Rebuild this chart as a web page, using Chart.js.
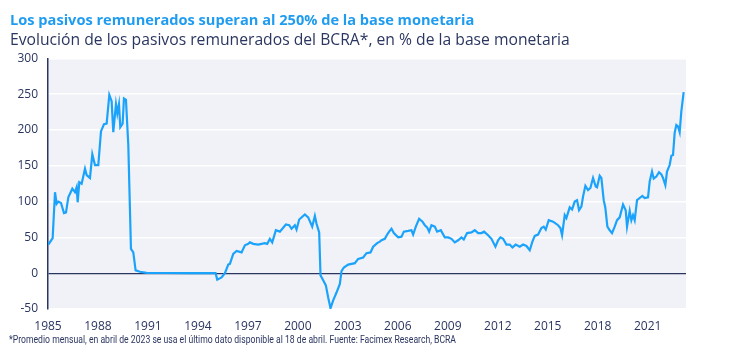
<!DOCTYPE html>
<html>
<head>
<meta charset="utf-8">
<script src="https://cdn.jsdelivr.net/npm/chart.js@4"></script>
<style>
  html, body { margin: 0; padding: 0; background: #ffffff; }
  #wrap { position: relative; width: 729px; height: 347px; }
</style>
</head>
<body>
<div id="wrap"><canvas id="c" width="729" height="347"></canvas></div>
<script>
const titleText = "Los pasivos remunerados superan al 250% de la base monetaria";
const subtitleText = "Evolución de los pasivos remunerados del BCRA*, en % de la base monetaria";
const footnoteText = "*Promedio mensual, en abril de 2023 se usa el último dato disponible al 18 de abril. Fuente: Facimex Research, BCRA";

const yearTicks = [1985, 1988, 1991, 1994, 1997, 2000, 2003, 2006, 2009, 2012, 2015, 2018, 2021];
const valueTicks = [-50, 0, 50, 100, 150, 200, 250, 300];

const years = [
  1985.02, 1985.28, 1985.42, 1985.52, 1985.62, 1985.78, 1985.96, 1986.08, 1986.22, 1986.46,
  1986.62, 1986.72, 1986.78, 1986.88, 1987.02, 1987.22, 1987.32, 1987.52, 1987.66, 1987.82,
  1988.02, 1988.18, 1988.36, 1988.52, 1988.68, 1988.82, 1988.92, 1989.08, 1989.16, 1989.26,
  1989.34, 1989.48, 1989.56, 1989.68, 1989.82, 1989.98, 1990.12, 1990.26, 1990.52, 1990.92,
  1992.0, 1993.5, 1995.06, 1995.16, 1995.42, 1995.62, 1995.82, 1995.92, 1996.12, 1996.32,
  1996.62, 1996.82, 1997.02, 1997.12, 1997.32, 1997.62, 1998.02, 1998.16, 1998.32, 1998.46,
  1998.68, 1998.92, 1999.28, 1999.48, 1999.62, 1999.82, 1999.92, 2000.08, 2000.42, 2000.62,
  2000.86, 2001.02, 2001.12, 2001.28, 2001.36, 2001.52, 2001.68, 2001.82, 2001.96, 2002.12,
  2002.32, 2002.52, 2002.62, 2002.76, 2003.02, 2003.42, 2003.62, 2003.92, 2004.12, 2004.36,
  2004.52, 2004.76, 2004.92, 2005.02, 2005.22, 2005.36, 2005.48, 2005.62, 2005.76, 2006.02,
  2006.22, 2006.36, 2006.62, 2006.82, 2006.92, 2007.08, 2007.28, 2007.48, 2007.62, 2007.76,
  2007.88, 2008.02, 2008.22, 2008.36, 2008.58, 2008.82, 2009.02, 2009.22, 2009.42, 2009.62,
  2009.82, 2009.96, 2010.16, 2010.42, 2010.62, 2010.82, 2011.02, 2011.18, 2011.42, 2011.62,
  2011.86, 2012.02, 2012.16, 2012.32, 2012.52, 2012.72, 2012.88, 2013.08, 2013.32, 2013.52,
  2013.72, 2013.92, 2014.08, 2014.22, 2014.42, 2014.62, 2014.76, 2014.88, 2015.06, 2015.32,
  2015.62, 2015.76, 2015.86, 2016.02, 2016.12, 2016.32, 2016.46, 2016.62, 2016.76, 2016.88,
  2017.02, 2017.12, 2017.26, 2017.42, 2017.56, 2017.72, 2017.88, 2017.96, 2018.12, 2018.22,
  2018.36, 2018.46, 2018.58, 2018.72, 2018.86, 2019.02, 2019.16, 2019.32, 2019.52, 2019.68,
  2019.76, 2019.92, 2020.02, 2020.12, 2020.22, 2020.36, 2020.52, 2020.68, 2020.82, 2021.02,
  2021.12, 2021.26, 2021.36, 2021.52, 2021.68, 2021.82, 2021.92, 2022.06, 2022.16, 2022.32,
  2022.42, 2022.52, 2022.62, 2022.72, 2022.82, 2022.92, 2023.02, 2023.16
];
const values = [
  40, 49, 113, 97, 100, 98, 84, 85, 106, 118,
  113, 120, 99, 127, 125, 146, 137, 133, 166, 151,
  151, 198, 208, 209, 249, 240, 197, 236, 223, 236,
  204, 209, 244, 242, 179, 34, 29, 4, 2, 0.5,
  0.3, 0.2, 0, -9, -6, 0, 12, 13, 27, 31,
  29, 39, 41, 43, 41, 40, 42, 41, 48, 43,
  60, 58, 68, 67, 62, 67, 61, 75, 82, 78,
  65, 80, 69, 57, -3, -10, -17, -34, -49, -38,
  -27, -15, 3, 8, 12, 14, 20, 22, 28, 29,
  37, 42, 44, 46, 48, 54, 58, 62, 56, 50,
  51, 58, 59, 60, 54, 65, 76, 72, 67, 64,
  58, 67, 65, 58, 60, 50, 50, 48, 43, 46,
  50, 47, 56, 57, 60, 56, 56, 58, 53, 48,
  37, 46, 50, 48, 40, 40, 36, 40, 37, 40,
  38, 32, 44, 52, 54, 63, 65, 61, 74, 72,
  67, 63, 53, 81, 77, 92, 89, 100, 102, 88,
  93, 107, 122, 116, 119, 133, 121, 120, 136, 133,
  102, 91, 65, 60, 56, 65, 74, 78, 96, 88,
  65, 87, 74, 81, 74, 102, 105, 108, 105, 106,
  128, 142, 132, 135, 141, 138, 133, 123, 142, 151,
  164, 165, 196, 207, 205, 197, 226, 253
];

const NAVY = '#2b3660';
const LINE_BLUE = '#1ba3fb';
const TITLE_BLUE = '#1f9cf0';

const bgPlugin = {
  id: 'plotBg',
  beforeDraw(chart) {
    const a = chart.chartArea, ctx = chart.ctx;
    ctx.save();
    ctx.fillStyle = '#f1f2f7';
    ctx.fillRect(a.left, a.top, a.right - a.left, a.bottom - a.top);
    ctx.restore();
  }
};
const footPlugin = {
  id: 'footnote',
  afterDraw(chart) {
    const ctx = chart.ctx;
    ctx.save();
    ctx.fillStyle = NAVY;
    ctx.font = '11.5px Roboto';
    ctx.textBaseline = 'middle';
    ctx.textAlign = 'left';
    ctx.fillText(footnoteText, 9, 340, 447);
    ctx.restore();
  }
};

const points = years.map((y, i) => ({ x: y, y: values[i] }));

new Chart(document.getElementById('c'), {
  type: 'line',
  data: {
    datasets: [{
      data: points,
      borderColor: LINE_BLUE,
      borderWidth: 2.2,
      pointRadius: 0,
      tension: 0,
      fill: false
    }]
  },
  options: {
    responsive: false,
    animation: false,
    layout: { padding: { left: 10, right: 43, top: 0, bottom: 12 } },
    plugins: {
      legend: { display: false },
      tooltip: { enabled: false },
      title: {
        display: true, text: titleText, align: 'start', color: TITLE_BLUE,
        font: { family: 'Open Sans', size: 14.6, weight: 'bold' },
        padding: { top: 12, bottom: 2 }
      },
      subtitle: {
        display: true, text: subtitleText, align: 'start', color: NAVY,
        font: { family: 'Open Sans', size: 15.7, weight: 'normal' },
        padding: { top: 0, bottom: 8 }
      }
    },
    scales: {
      x: {
        type: 'linear', min: 1985, max: 2023.3,
        grid: { display: false },
        border: { display: false },
        afterBuildTicks(scale) { scale.ticks = yearTicks.map(v => ({ value: v })); },
        afterFit(scale) { scale.height = 26; },
        ticks: {
          color: NAVY, padding: 2, maxRotation: 0, autoSkip: false,
          font: { family: 'Open Sans', size: 12 },
          callback: v => String(v)
        }
      },
      y: {
        min: -50, max: 300,
        afterBuildTicks(scale) { scale.ticks = valueTicks.map(v => ({ value: v })); },
        afterFit(scale) { scale.width = 38; },
        border: { display: true, color: NAVY, width: 1.5 },
        grid: {
          drawTicks: false,
          color: ctx => (ctx.tick && ctx.tick.value === 0) ? NAVY : '#ffffff',
          lineWidth: ctx => (ctx.tick && ctx.tick.value === 0) ? 1.2 : 1.5
        },
        ticks: {
          color: NAVY, padding: 10,
          font: { family: 'Open Sans', size: 12 },
          callback: v => String(v)
        }
      }
    }
  },
  plugins: [bgPlugin, footPlugin]
});
</script>
</body>
</html>
